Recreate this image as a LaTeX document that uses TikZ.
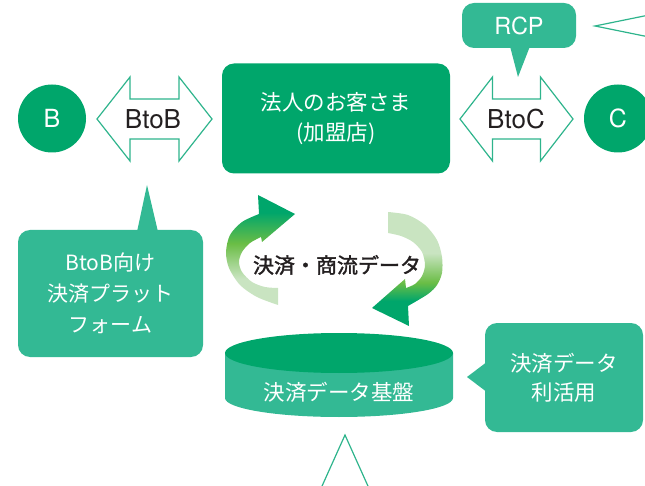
\documentclass[tikz,border=0pt]{standalone}
\usepackage{fontspec}
\setmainfont{Noto Sans CJK JP}
\newfontfamily\lat{TeX Gyre Heros}
\newfontfamily\jpmed[FakeBold=1.6]{Noto Sans CJK JP}
\usetikzlibrary{calc}
\definecolor{dkgreen}{HTML}{00A66B}
\definecolor{lgreen}{HTML}{33B994}
\definecolor{olgreen}{HTML}{2EB48C}
\definecolor{ygreen}{HTML}{6ABD45}
\definecolor{pale}{HTML}{C9E4C1}
\definecolor{inkc}{HTML}{231F20}
\pgfdeclareverticalshading{lshade}{100bp}{color(0bp)=(pale); color(25bp)=(pale); color(37bp)=(pale); color(53bp)=(ygreen); color(67bp)=(dkgreen); color(100bp)=(dkgreen)}
\pgfdeclareverticalshading{rshade}{100bp}{color(0bp)=(dkgreen); color(36bp)=(dkgreen); color(44bp)=(ygreen); color(57bp)=(pale); color(75bp)=(pale); color(100bp)=(pale)}
\tikzset{
  circ/.style={circle, fill=dkgreen, minimum size=68, inner sep=0, text=white, font=\lat\fontsize{25}{25}\selectfont},
  outl/.style={draw=olgreen, line width=1.2pt, fill=white, line join=miter},
  arrtxt/.style={text=inkc, inner sep=0, font=\lat\fontsize{26}{26}\selectfont},
  mainbox/.style={rounded corners=12, fill=dkgreen, text=white, align=center, inner sep=0},
  callbox/.style={rounded corners=12, fill=lgreen, text=white, align=center, inner sep=0},
  wtxt/.style={text=white, inner sep=0, align=center},
}
\begin{document}
\begin{tikzpicture}[x=1pt,y=1pt]
\useasboundingbox (0,0) rectangle (645,-486);
\clip (0,0) rectangle (645,-486);

% circles
\node[circ] (B) at (52,-118.5) {B};
\node[circ] (C) at (618,-118.5) {C};

% center box
\node[mainbox, minimum width=228, minimum height=110, font=\fontsize{21.5}{30}\selectfont] (cust) at (336,-118.5) {法人のお客さま\\(加盟店)};

% double arrows
\draw[outl, shift={(154.5,-119)}] (-57.5,0) -- (-24.5,42) -- (-24.5,20) -- (24.5,20) -- (24.5,42) -- (57.5,0) -- (24.5,-42) -- (24.5,-20) -- (-24.5,-20) -- (-24.5,-42) -- cycle;
\node[arrtxt] (btob) at (153,-119) {BtoB};
\draw[outl, shift={(516.5,-119)}] (-56.5,0) -- (-24,42) -- (-24,20) -- (24,20) -- (24,42) -- (56.5,0) -- (24,-42) -- (24,-20) -- (-24,-20) -- (-24,-42) -- cycle;
\node[arrtxt] (btoc) at (516,-119) {BtoC};

% RCP callout
\node[callbox, minimum width=114, minimum height=45, font=\lat\fontsize{23.5}{23.5}\selectfont] (rcp) at (519,-25.5) {RCP};
\coordinate (rcptip) at (518,-77);
\fill[lgreen] ($(rcp.south)+(-9,2)$) -- (rcptip) -- ($(rcp.south)+(11,2)$) -- cycle;

% partial arrows at edges
\coordinate (trtip) at (595,-26);
\draw[outl, fill=none] (655,-13.8) -- (trtip) -- (655,-38.2);
\coordinate (bttip) at (345,-435);
\draw[outl, fill=none] (318,-495) -- (bttip) -- (372,-495);

% BtoB platform callout
\node[callbox, minimum width=185, minimum height=127, font=\fontsize{21}{31}\selectfont] (plat) at (110.5,-293.5) {BtoB向け\\決済プラット\\フォーム};
\coordinate (plattip) at (147,-185);
\fill[lgreen] ($(plat.north)+(26.5,-2)$) -- (plattip) -- ($(plat.north)+(47.5,-2)$) -- cycle;

% data usage callout
\node[callbox, minimum width=158, minimum height=109, font=\fontsize{21.5}{29}\selectfont] (use) at (564,-377.5) {決済データ\\利活用};
\coordinate (usetip) at (467,-377);
\fill[lgreen] ($(use.west)+(2,15.5)$) -- (usetip) -- ($(use.west)+(2,-14.5)$) -- cycle;

% circular arrows
\shade[shading=lshade] plot[smooth] coordinates {(278,-305) (257,-297) (240,-285) (229,-268) (226,-252) (230,-235) (242,-222) (259,-214)} -- (258,-195) -- (295,-214) -- (262,-242) -- (261,-237) -- plot[smooth] coordinates {(261,-237) (250,-243) (242,-252) (239,-262) (242,-272) (252,-282) (265,-287) (278,-288)} -- cycle;
\shade[shading=rshade] plot[smooth] coordinates {(388,-212) (408,-215) (425,-225) (437,-240) (442,-257) (442,-273) (437,-285) (428,-294) (408,-306)} -- (409,-326) -- (372,-308) -- (405,-279) -- (406,-288) -- plot[smooth] coordinates {(406,-288) (415,-284) (422,-276) (425,-265) (422,-252) (413,-242) (401,-236) (388,-233)} -- cycle;
\node[text=inkc, inner sep=0, font=\jpmed\fontsize{21}{21}\selectfont] (flow) at (337,-265) {決済・商流データ};

% cylinder
\fill[lgreen] (225,-353) -- (225,-398) arc[start angle=180, end angle=360, x radius=114, y radius=19] -- (453,-353) -- cycle;
\fill[dkgreen] (339,-353) ellipse[x radius=114, y radius=20];
\node[wtxt, font=\fontsize{21.5}{21.5}\selectfont] (base) at (339,-392) {決済データ基盤};
\end{tikzpicture}
\end{document}
